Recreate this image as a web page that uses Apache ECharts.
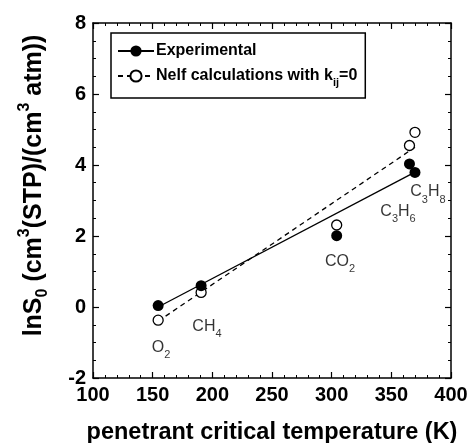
<!DOCTYPE html>
<html><head><meta charset="utf-8">
<script src="https://cdn.jsdelivr.net/npm/echarts@6/dist/echarts.min.js"></script>
<style>html,body{margin:0;padding:0;background:#fff}#c{width:467px;height:443px}</style>
</head><body><div id="c"></div>
<script>
// Penetrant critical temperatures (K)
const tc = [154.6, 190.6, 304.2, 365.2, 369.8];
const gases = ['O2', 'CH4', 'CO2', 'C3H6', 'C3H8'];
const experimental = [0.04, 0.60, 2.01, 4.03, 3.79];
const nelf = [-0.37, 0.41, 2.31, 4.55, 4.92];
// fitted lines (endpoints)
const expFitX = [154.6, 369.8];
const expFitY = [0.0, 3.80];
const nelfFitX = [154.6, 369.8];
const nelfFitY = [-0.40, 4.50];
// label anchor positions (data coords)
const labelX = [157, 195.5, 307, 355.6, 380.7];
const labelY = [-1.13, -0.56, 1.27, 2.70, 3.24];
const labelRich = ['O{s|2}', 'CH{s|4}', 'CO{s|2}', 'C{s|3}H{s|6}', 'C{s|3}H{s|8}'];
const xTicks = [100, 150, 200, 250, 300, 350, 400];
const yTicks = [-2, 0, 2, 4, 6, 8];

const SANS = '"Liberation Sans", Arial, sans-serif';
const chart = echarts.init(document.getElementById('c'), null, {renderer: 'canvas'});

const line = {onZero: false, lineStyle: {color: '#000', width: 1.5}};
const tick = {inside: true, length: 6, lineStyle: {color: '#000', width: 1.2}};
const minor = n => ({show: true, splitNumber: n, length: 3, lineStyle: {color: '#000', width: 1}});

const pts = (xs, ys) => xs.map((x, i) => [x, ys[i]]);

chart.setOption({
  animation: false,
  backgroundColor: '#fff',
  grid: {left: 93, right: 16, top: 23, bottom: 65, containLabel: false, outerBoundsMode: 'none'},
  xAxis: [
    {type: 'value', min: xTicks[0], max: xTicks[xTicks.length - 1], interval: 50, position: 'bottom',
      axisLine: line, axisTick: tick, minorTick: minor(5), splitLine: {show: false},
      axisLabel: {color: '#000', fontFamily: SANS, fontWeight: 'bold', fontSize: 20, margin: 7},
      name: 'penetrant critical temperature (K)', nameLocation: 'middle', nameGap: 43,
      nameTextStyle: {color: '#000', fontFamily: SANS, fontWeight: 'bold', fontSize: 23.5}},
    {type: 'value', min: xTicks[0], max: xTicks[xTicks.length - 1], interval: 50, position: 'top',
      axisLine: line, axisTick: tick, minorTick: minor(5), splitLine: {show: false}, axisLabel: {show: false}}
  ],
  yAxis: [
    {type: 'value', min: yTicks[0], max: yTicks[yTicks.length - 1], interval: 2, position: 'left',
      axisLine: line, axisTick: tick, minorTick: minor(4), splitLine: {show: false},
      axisLabel: {color: '#000', fontFamily: SANS, fontWeight: 'bold', fontSize: 20, margin: 7},
      name: '{b|lnS}{s|0}{b| (cm}{p|3}{b|(STP)/(cm}{p|3}{b| atm))}', nameLocation: 'middle', nameGap: 42, nameRotate: 90,
      nameTextStyle: {color: '#000', fontFamily: SANS, fontWeight: 'bold', fontSize: 25, padding: [0, 0, 0, 30],
        rich: {
          b: {fontFamily: SANS, fontWeight: 'bold', fontSize: 25, color: '#000', lineHeight: 34, verticalAlign: 'middle'},
          s: {fontFamily: SANS, fontWeight: 'bold', fontSize: 16, color: '#000', lineHeight: 34, verticalAlign: 'bottom'},
          p: {fontFamily: SANS, fontWeight: 'bold', fontSize: 16, color: '#000', lineHeight: 34, verticalAlign: 'top'}
        }}},
    {type: 'value', min: yTicks[0], max: yTicks[yTicks.length - 1], interval: 2, position: 'right',
      axisLine: line, axisTick: tick, minorTick: minor(4), splitLine: {show: false}, axisLabel: {show: false}}
  ],
  legend: {
    left: 111, top: 33, orient: 'vertical', itemWidth: 36, itemHeight: 14, itemGap: 3,
    padding: [8, 8, 10, 6],
    borderColor: '#000', borderWidth: 1.5, backgroundColor: '#fff',
    data: ['Experimental', 'Nelf calculations with k{s|ij}=0'],
    textStyle: {color: '#000', fontFamily: SANS, fontWeight: 'bold', fontSize: 16, lineHeight: 20, padding: [0, 0, 0, -3],
      rich: {s: {fontFamily: SANS, fontWeight: 'bold', fontSize: 11, color: '#000', verticalAlign: 'bottom', lineHeight: 24}}},
    selectedMode: false
  },
  series: [
    {name: 'Experimental', type: 'line', data: pts(expFitX, expFitY), showSymbol: false, symbol: 'circle',
     lineStyle: {color: '#000', width: 1.3}, itemStyle: {color: '#000'}, z: 2},
    {name: 'Nelf calculations with k{s|ij}=0', type: 'line', data: pts(nelfFitX, nelfFitY), showSymbol: false, symbol: 'circle',
     lineStyle: {color: '#000', width: 1.3, type: [5, 4]}, itemStyle: {color: '#fff', borderColor: '#000', borderWidth: 1.3}, z: 2},
    {name: 'expPts', type: 'scatter', data: pts(tc, experimental), symbol: 'circle', symbolSize: 11,
     itemStyle: {color: '#000', opacity: 1}, z: 4},
    {name: 'nelfPts', type: 'scatter', data: pts(tc, nelf), symbol: 'circle', symbolSize: 10,
     itemStyle: {color: '#fff', borderColor: '#000', borderWidth: 1.3, opacity: 1}, z: 3},
    {name: 'labels', type: 'scatter', data: pts(labelX, labelY).map((p, i) => ({value: p, name: labelRich[i]})),
     symbolSize: 0, silent: true, z: 5,
     label: {show: true, position: 'inside', formatter: p => p.name, color: '#000', fontFamily: SANS, fontSize: 16,
       rich: {s: {fontFamily: SANS, fontSize: 11, color: '#000', verticalAlign: 'bottom', lineHeight: 26}}}}
  ]
});
</script></body></html>
